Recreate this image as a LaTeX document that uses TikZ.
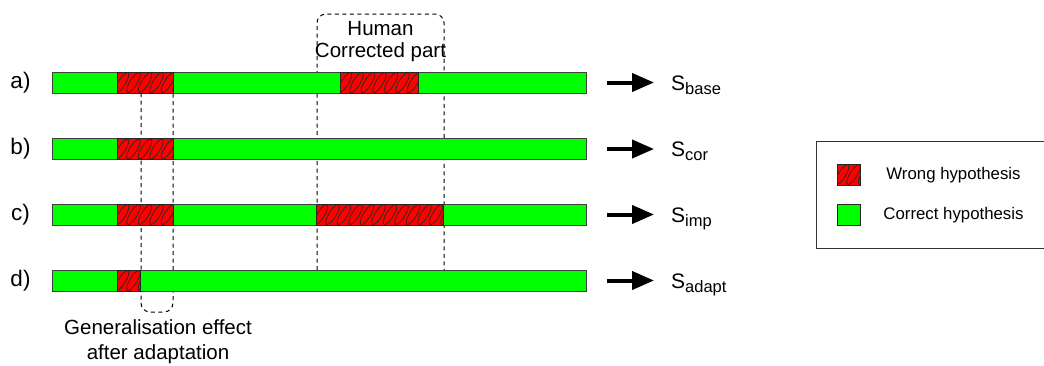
\documentclass[tikz,border=0pt]{standalone}
\usepackage{fontspec}
\setmainfont{Liberation Sans}
\usetikzlibrary{arrows.meta,positioning,calc}
\definecolor{okgreen}{HTML}{00FF00}
\definecolor{badred}{HTML}{FF0000}
\tikzset{bar/.style = {draw=black!75, line width=1pt, fill=okgreen, minimum width=534pt, minimum height=21pt, inner sep=0pt, anchor=west}}
\tikzset{wrong/.style = {draw=black!85, line width=1pt}}
\tikzset{coil/.style = {black!85, line width=0.7pt}}
\tikzset{guide/.style = {dash pattern=on 4pt off 3.5pt, line width=1pt, rounded corners=9pt}}
\tikzset{outarrow/.style = {line width=4pt, -{Triangle[length=22pt,width=18pt]}}}
\tikzset{rowlabel/.style = {font=\fontsize{20.5}{22}\selectfont, inner sep=0pt}}
\tikzset{legendtext/.style = {font=\fontsize{16.8}{18}\selectfont, inner sep=0pt}}
\newcommand{\slabel}[1]{S\raisebox{-4pt}{\fontsize{16.5}{18}\selectfont #1}}
% red block with the wavy hatching: x1, x2, y centre
\newcommand{\wrongpart}[3]{%
  \fill[badred] (#1,#3-10.5) rectangle (#2,#3+10.5);
  \begin{scope}
    \clip (#1,#3-10.5) rectangle (#2,#3+10.5);
    \foreach \k in {-1,...,12}
      \draw[coil, rotate around={58:(#1+\k*11.5+5,#3)}] (#1+\k*11.5+5,#3) ellipse (11.5 and 3.6);
  \end{scope}
  \draw[wrong] (#1,#3-10.5) rectangle (#2,#3+10.5);
}

\begin{document}
\begin{tikzpicture}[x=1pt,y=-1pt]
    \useasboundingbox (0,0) rectangle (1044,365);

    % dashed guides
    \draw[guide] (317,270) -- (317,14) -- (444,14) -- (444,270);
    \draw[guide] (141,93) -- (141,312) -- (173,312) -- (173,93);
    \node[rowlabel, align=center] (human) at (380.5,41.5) {Human\\Corrected part};
    \node[rowlabel, align=center, font=\fontsize{20.5}{25}\selectfont] (gen) at (158,342) {Generalisation effect\\after adaptation};

    % rows
    \node[rowlabel, font=\fontsize{22.5}{24}\selectfont] (la) at (20.5,82.5) {a)};
    \node[rowlabel, font=\fontsize{22.5}{24}\selectfont] (lb) at (20.5,149) {b)};
    \node[rowlabel, font=\fontsize{22.5}{24}\selectfont] (lc) at (20.5,214.5) {c)};
    \node[rowlabel, font=\fontsize{22.5}{24}\selectfont] (ld) at (20.5,280.5) {d)};

    \node[bar] (bara) at (52,82.5) {};
    \node[bar] (barb) at (52,149) {};
    \node[bar] (barc) at (52,214.5) {};
    \node[bar] (bard) at (52,280.5) {};

    \wrongpart{117}{173}{82.5}
    \wrongpart{340}{418}{82.5}
    \wrongpart{117}{173}{149}
    \wrongpart{117}{173}{214.5}
    \wrongpart{316}{443}{214.5}
    \wrongpart{117}{140}{280.5}

    \node[rowlabel, font=\fontsize{21}{22}\selectfont, anchor=base west] (sa) at (671,90) {\slabel{base}};
    \node[rowlabel, font=\fontsize{21}{22}\selectfont, anchor=base west] (sb) at (671,156.5) {\slabel{cor}};
    \node[rowlabel, font=\fontsize{21}{22}\selectfont, anchor=base west] (sc) at (671,222) {\slabel{imp}};
    \node[rowlabel, font=\fontsize{21}{22}\selectfont, anchor=base west] (sd) at (671,288) {\slabel{adapt}};

    \draw[outarrow] ([xshift=20pt]bara.east) -- (654,82.5);
    \draw[outarrow] ([xshift=20pt]barb.east) -- (654,149);
    \draw[outarrow] ([xshift=20pt]barc.east) -- (654,214.5);
    \draw[outarrow] ([xshift=20pt]bard.east) -- (654,280.5);

    % legend
    \draw[line width=1pt, draw=black!80] (816,141) rectangle (1060,248);
    \wrongpart{837}{860}{174.5}
    \draw[wrong, fill=okgreen] (837,204) rectangle (860,225);
    \node[legendtext] (lwrong) at (953.5,175) {Wrong hypothesis};
    \node[legendtext] (lright) at (953.5,215) {Correct hypothesis};
\end{tikzpicture}
\end{document}
